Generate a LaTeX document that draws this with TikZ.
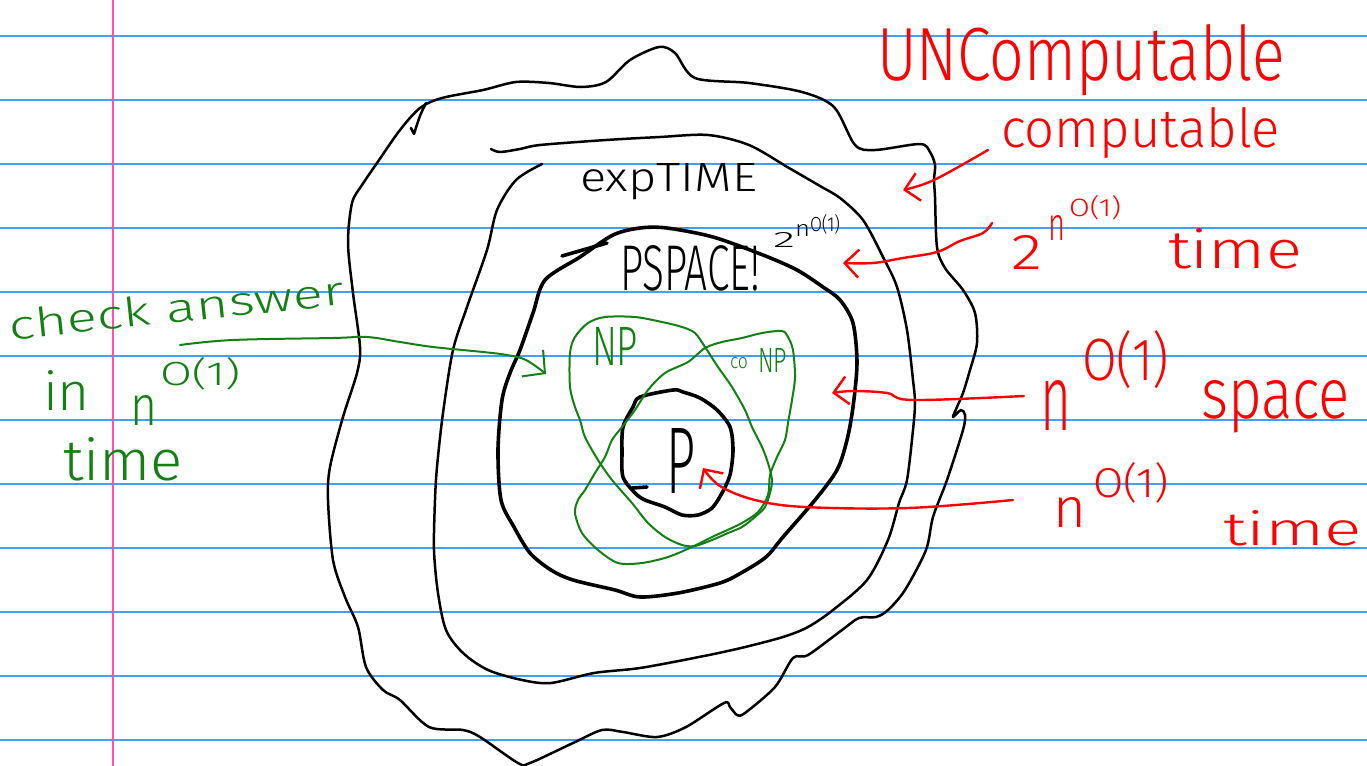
\documentclass[tikz,border=0pt]{standalone}
\usepackage{fontspec}
\setmainfont{Fira Sans Light}
\usepackage{graphicx}
\usetikzlibrary{arrows.meta}
\definecolor{ruleblue}{RGB}{64,160,255}
\definecolor{marginpink}{RGB}{255,80,170}
\definecolor{pengreen}{RGB}{20,128,20}
\definecolor{penred}{RGB}{255,0,0}
\newdimen\pxu \pxu=0.5pt
\newcommand{\hw}[3]{\resizebox{#1\pxu}{#2\pxu}{#3}}
\begin{document}
\begin{tikzpicture}[x=0.5pt,y=-0.5pt, line cap=round, line join=round,
  thinpen/.style={draw=black, line width=1.25pt},
  thickpen/.style={draw=black, line width=1.8pt},
  greenpen/.style={draw=pengreen, line width=1pt},
  redarrow/.style={draw=penred, line width=1.2pt, -{Straight Barb[length=7pt,width=14pt]}},
  greenarrow/.style={draw=pengreen, line width=1pt, -{Straight Barb[length=8pt,width=17pt]}},
  lbl/.style={anchor=base west, inner sep=0pt, outer sep=0pt},
  redlbl/.style={lbl, text=penred},
  greenlbl/.style={lbl, text=pengreen},
  blacklbl/.style={lbl, text=black},
]
\useasboundingbox (0,0) rectangle (1367,766);
\fill[white] (0,0) rectangle (1367,766);
% ruled paper
\foreach \yy in {36,100,...,740} \draw[ruleblue, line width=1pt] (0,\yy) -- (1367,\yy);
\draw[marginpink, line width=1.1pt] (113,0) -- (113,766);

% outer boundary (computable)
\draw[thinpen] plot[smooth cycle, tension=0.5] coordinates {
 (442,98) (483,90) (516,82) (549,83) (581,87) (606,82) (630,60) (659,47) (675,53) (695,78)
 (749,83) (802,92) (834,107) (855,145) (875,150) (920,144) (930,152) (935,165) (934,180)
 (935,197) (937,247) (945,268) (963,290) (975,313) (977,343) (970,370) (963,393) (957,407)
 (953,417) (961,410) (965,415) (963,430) (947,480) (933,517) (926,550) (905,590) (888,610)
 (876,617) (859,618) (842,630) (808,655) (793,658) (775,687) (745,713) (737,715) (730,707)
 (724,703) (686,727) (657,737) (623,732) (602,730) (573,743) (530,763) (518,763) (480,737)
 (463,730) (429,727) (400,700) (383,690) (366,667) (358,627) (345,597) (333,560) (328,500)
 (330,467) (343,417) (357,373) (360,347) (353,293) (348,243) (352,203) (362,185) (377,163)
 (400,130) (420,108)};
\draw[thinpen] (426,103) .. controls (420,115) .. (414,134) -- (411,128);

% EXPTIME boundary (open)
\draw[thinpen] plot[smooth, tension=0.5] coordinates {
 (491,149) (500,152) (520,149) (540,145) (606,140) (660,137) (708,135) (749,145) (789,168)
 (820,186) (840,198) (863,220) (883,257) (897,287) (907,330) (913,380) (915,403) (913,430)
 (907,480) (899,503) (888,540) (867,580) (833,610) (808,627) (783,637) (741,648) (699,657)
 (640,668) (594,673) (551,683) (522,680) (488,670) (463,653) (446,630) (438,593) (434,550)
 (435,500) (437,467) (443,413) (453,350) (467,307) (487,250) (497,210) (516,180) (542,164)};

% PSPACE boundary
\draw[thickpen] plot[smooth cycle, tension=0.5] coordinates {
 (545,280) (580,257) (613,235) (640,228) (667,228) (713,237) (763,255) (797,270) (823,287)
 (840,300) (853,323) (857,363) (853,407) (847,440) (837,470) (815,500) (783,537) (766,557)
 (741,573) (720,583) (678,593) (640,597) (615,590) (573,580) (551,570) (530,553) (514,527)
 (501,500) (498,450) (502,400) (510,373) (520,350) (533,313)};
\draw[thickpen] (562,256) -- (607,243);

% P boundary
\draw[thickpen] plot[smooth cycle, tension=0.5] coordinates {
 (640,397) (673,390) (683,392) (700,398) (717,410) (730,427) (733,450) (730,475) (722,493)
 (712,508) (698,515) (682,515) (665,507) (645,500) (635,493) (623,477) (622,453) (623,427)
 (633,407)};
\draw[thickpen] (632,488) -- (647,487);

% NP and coNP
\draw[greenpen] plot[smooth cycle, tension=0.5] coordinates {
 (605,317) (635,317) (662,322) (682,327) (695,333) (705,347) (718,367) (732,387) (745,410)
 (752,427) (762,447) (768,463) (772,480) (770,493) (765,507) (755,517) (742,527) (728,533)
 (712,540) (695,546) (682,545) (665,537) (648,523) (632,503) (612,480) (598,460) (585,437)
 (580,420) (575,407) (570,387) (570,353) (575,337) (588,323)};
\draw[greenpen] plot[smooth cycle, tension=0.5] coordinates {
 (705,348) (722,342) (742,338) (762,333) (782,331) (788,337) (793,350) (795,377) (792,400)
 (788,423) (785,440) (777,457) (770,475) (768,495) (758,512) (740,524) (712,537) (692,547)
 (668,557) (642,563) (618,563) (598,550) (582,533) (575,513) (578,500) (585,490) (595,473)
 (605,457) (612,440) (622,427) (635,410) (648,390) (665,373) (688,362)};

% red labels
\node[redlbl] (unc) at (877,80) {\hw{408}{56}{UNComputable}};
\node[redlbl] (comp) at (1001,147) {\hw{279}{40}{computable}};
\node[redlbl] (rtwo) at (1011,269) {\hw{31}{34}{2}};
\node[redlbl] (rnone) at (1048,240) {\hw{17}{25}{n}};
\node[redlbl] (roone) at (1069,216) {\hw{52}{21}{O(1)}};
\node[redlbl] (rtimeone) at (1168,268) {\hw{134}{40}{time}};
\node[redlbl] (rntwo) at (1040,430) {\hw{31}{50}{n}};
\node[redlbl] (rotwo) at (1082,380) {\hw{87}{50}{O(1)}};
\node[redlbl] (rspace) at (1201,418) {\hw{149}{38}{space}};
\node[redlbl] (rnthree) at (1053,527) {\hw{33}{30}{n}};
\node[redlbl] (rothree) at (1093,497) {\hw{76}{35}{O(1)}};
\node[redlbl] (rtimetwo) at (1223,545) {\hw{139}{35}{time}};

% green labels
\node[greenlbl, rotate=6] (chk) at (10,340) {\hw{337}{30}{check answer}};
\node[greenlbl] (gin) at (43,410) {\hw{47}{40}{in}};
\node[greenlbl] (gn) at (130,425) {\hw{27}{30}{n}};
\node[greenlbl] (go) at (160,385) {\hw{80}{28}{O(1)}};
\node[greenlbl] (gtime) at (63,480) {\hw{120}{43}{time}};
\node[greenlbl] (np) at (592,365) {\hw{46}{38}{NP}};
\node[greenlbl] (co) at (730,368) {\hw{18}{11}{co}};
\node[greenlbl] (conp) at (758,372) {\hw{29}{24}{NP}};

% black labels
\node[blacklbl] (ept) at (580,191) {\hw{177}{28}{expTIME}};
\node[blacklbl] (psp) at (620,290) {\hw{140}{45}{PSPACE!}};
\node[blacklbl] (btwo) at (773,247) {\hw{22}{15}{2}};
\node[blacklbl] (bn) at (795,236) {\hw{15}{12}{n}};
\node[blacklbl] (bo) at (810,231) {\hw{30}{17}{O(1)}};
\node[blacklbl] (bigp) at (666,493) {\hw{29}{65}{P}};

% arrow end points
\coordinate (aones) at (988,150);
\coordinate (aonee) at (903,190);
\coordinate (atwos) at (992,223);
\coordinate (atwoe) at (843,263);
\coordinate (athrees) at (1024,396);
\coordinate (athreee) at (832,393);
\coordinate (afours) at (1013,500);
\coordinate (afoure) at (703,468);
\coordinate (ags) at (180,345);
\coordinate (age) at (546,374);

\draw[redarrow] plot[smooth, tension=0.6] coordinates {(aones) (934,180) (aonee)};
\draw[redarrow] plot[smooth, tension=0.6] coordinates {(atwos) (983,233) (960,241) (937,252) (903,258) (873,263) (atwoe)};
\draw[redarrow] plot[smooth, tension=0.6] coordinates {(athrees) (913,400) (887,393) (853,391) (athreee)};
\draw[redarrow] plot[smooth, tension=0.6] coordinates {(afours) (908,508) (805,507) (755,500) (720,486) (afoure)};
\draw[greenarrow] plot[smooth, tension=0.6] coordinates {(ags) (233,340) (333,338) (367,337) (400,342) (433,347) (483,352) (507,355) (526,360) (age)};
\end{tikzpicture}
\end{document}
